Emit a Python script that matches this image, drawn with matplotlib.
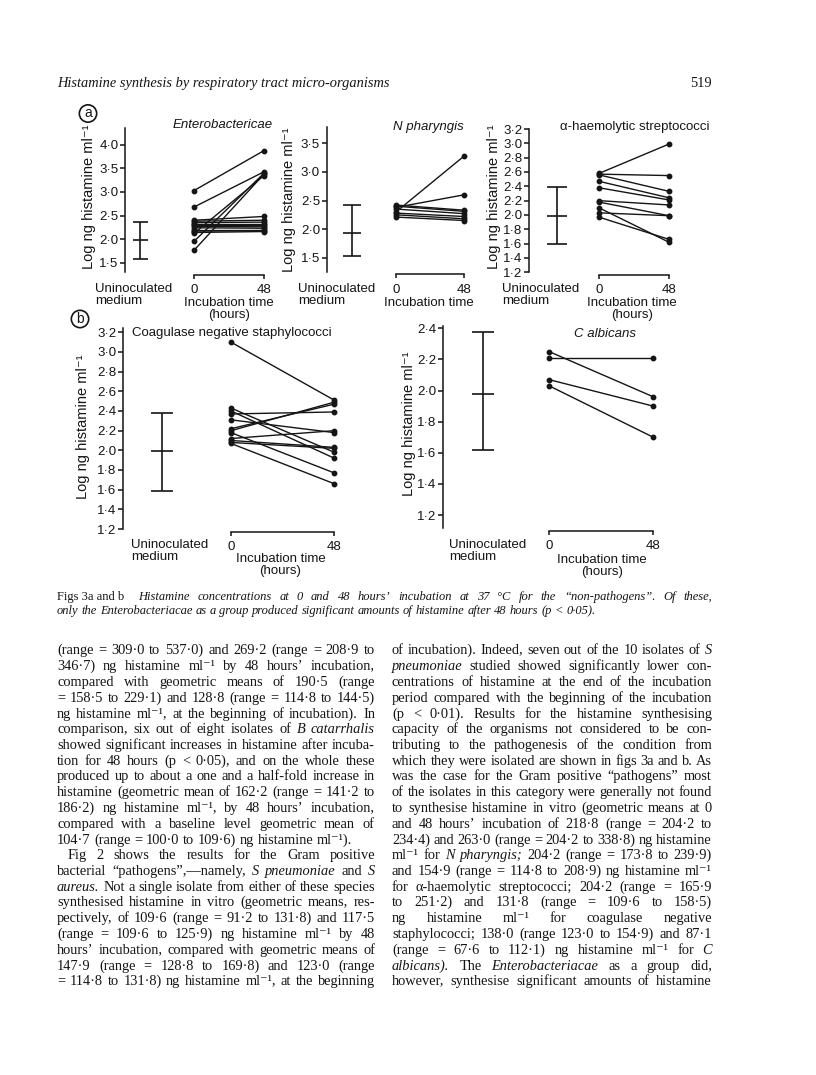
import math
import matplotlib
matplotlib.use("Agg")
import matplotlib.pyplot as plt
from matplotlib.ticker import FixedLocator, FuncFormatter
from matplotlib.backends.backend_agg import get_hinting_flag

W, H = 816, 1075
SANS = ['Liberation Sans', 'DejaVu Sans']
SERIF = ['Liberation Serif', 'DejaVu Serif']
INK = '#151515'

# ---- data (log ng histamine / ml) ----
# uninoculated medium: (low, geometric mean, high)
entero_medium = (1.57, 1.99, 2.37)
entero_0h = [3.03, 2.68, 2.12, 1.95, 1.76, 2.40, 2.38, 2.35, 2.33, 2.30, 2.27, 2.24, 2.20, 2.17, 2.14]
entero_48h = [3.88, 3.43, 3.35, 3.40, 3.38, 2.48, 2.40, 2.36, 2.33, 2.30, 2.26, 2.23, 2.20, 2.18, 2.16]

npha_medium = (1.535, 1.94, 2.42)
npha_0h = [2.30, 2.38, 2.42, 2.40, 2.35, 2.28, 2.25, 2.21]
npha_48h = [3.28, 2.60, 2.33, 2.31, 2.27, 2.22, 2.18, 2.15]

strep_medium = (1.60, 1.99, 2.39)
strep_0h = [2.58, 2.57, 2.56, 2.47, 2.38, 2.20, 2.18, 2.10, 2.03, 1.97]
strep_48h = [2.99, 2.55, 2.33, 2.24, 2.21, 2.14, 1.99, 1.62, 1.99, 1.66]

coag_medium = (1.586, 1.99, 2.376)
coag_0h = [3.10, 2.43, 2.40, 2.37, 2.31, 2.22, 2.20, 2.18, 2.12, 2.10, 2.08, 2.07]
coag_48h = [2.51, 1.98, 1.92, 2.39, 2.18, 2.47, 2.49, 1.77, 2.20, 2.03, 2.02, 1.66]

calb_medium = (1.62, 1.98, 2.374)
calb_0h = [2.25, 2.21, 2.07, 2.03]
calb_48h = [1.96, 2.21, 1.90, 1.70]

time_labels = ['0', '48']

fig = plt.figure(figsize=(W / 100, H / 100), dpi=100)
fig.patch.set_facecolor('white')


def rect(l, t, r, b):
    return [l / W, 1 - b / H, (r - l) / W, (b - t) / H]


def ftext(x, y, s, **kw):
    return fig.text(x / W, 1 - y / H, s, color=INK, **kw)


def panel(spine_x, top, bottom, right, ylim, yticks, xpos, medium, v0, v48,
          cap, title, title_xy, title_italic, ylab_xy, under):
    ax = fig.add_axes(rect(spine_x, top, right, bottom))
    ax.set_xlim(spine_x, right)
    ax.set_ylim(*ylim)
    ax.patch.set_alpha(0)
    for s in ['top', 'right']:
        ax.spines[s].set_visible(False)
    for s in ['left', 'bottom']:
        ax.spines[s].set_linewidth(1.1)
        ax.spines[s].set_color(INK)
    ax.spines['bottom'].set_position(('outward', 1.8))
    ax.spines['bottom'].set_bounds(xpos[1], xpos[2])

    ax.yaxis.set_major_locator(FixedLocator(yticks))
    ax.yaxis.set_major_formatter(FuncFormatter(lambda v, p: f"{v:.1f}".replace('.', '·')))
    ax.set_xticks([xpos[1], xpos[2]])
    ax.set_xticklabels(time_labels)
    ax.tick_params(axis='y', direction='out', length=3.6, width=1.1, pad=1.2,
                   labelsize=9.5, colors=INK)
    ax.tick_params(axis='x', direction='out', length=3.0, width=1.1, pad=3.8,
                   labelsize=9.5, colors=INK)
    for lab in ax.get_xticklabels() + ax.get_yticklabels():
        lab.set_family(SANS)

    lo, mean, hi = medium
    ax.errorbar([xpos[0]], [mean], yerr=[[mean - lo], [hi - mean]], fmt='_',
                markersize=cap, markeredgewidth=1.2, capsize=cap / 2,
                capthick=1.2, elinewidth=1.2, color=INK)
    for a, b in zip(v0, v48):
        ax.plot([xpos[1], xpos[2]], [a, b], '-o', color=INK, lw=1.0,
                markersize=3.2, clip_on=False)

    ftext(title_xy[0], title_xy[1], title, fontsize=9.5, family=SANS,
          style='italic' if title_italic else 'normal', ha='left', va='center')
    ftext(ylab_xy[0], ylab_xy[1], 'Log ng histamine ml⁻¹', fontsize=10.5,
          family=SANS, rotation=90, ha='center', va='center')
    # labels under the axis
    ux, uy = under['medium']
    ftext(ux, uy, 'Uninoculated\nmedium', fontsize=9.5, family=SANS,
          ha='left', va='center', linespacing=1.0)
    ix, iy = under['incub']
    ftext(ix, iy, under.get('incub_text', 'Incubation time\n(hours)'),
          fontsize=9.5, family=SANS, ha='center', va='top', linespacing=1.0)
    return ax


panel(125, 128, 272, 280, (1.30, 4.36), [1.5, 2.0, 2.5, 3.0, 3.5, 4.0],
      (140, 194, 264), entero_medium, entero_0h, entero_48h, 10.8,
      'Enterobactericae', (173, 125.5), True, (88.5, 197),
      {'medium': (95, 295), 'incub': (229, 297)})

panel(326.7, 127.3, 271.7, 480, (1.255, 3.78), [1.5, 2.0, 2.5, 3.0, 3.5],
      (351.7, 396, 464.3), npha_medium, npha_0h, npha_48h, 12.5,
      'N pharyngis', (393, 127), True, (288.5, 200),
      {'medium': (298, 294.5), 'incub': (429, 297), 'incub_text': 'Incubation time'})

panel(529.3, 129, 272.3, 690, (1.2, 3.2), [1.2 + 0.2 * i for i in range(11)],
      (557.3, 599, 669), strep_medium, strep_0h, strep_48h, 13.7,
      'α-haemolytic streptococci', (560, 127), False, (494, 197),
      {'medium': (502, 295), 'incub': (632, 297)})

panel(123.3, 328, 529, 345, (1.2, 3.244), [1.2 + 0.2 * i for i in range(11)],
      (161.7, 231, 334.3), coag_medium, coag_0h, coag_48h, 16.5,
      'Coagulase negative staphylococci', (131.5, 333), False, (83.5, 427),
      {'medium': (131, 551), 'incub': (280.5, 553)})

panel(443.3, 326, 528.3, 665, (1.115, 2.415), [1.2, 1.4, 1.6, 1.8, 2.0, 2.2, 2.4],
      (483.3, 549.3, 653.3), calb_medium, calb_0h, calb_48h, 15.8,
      'C albicans', (573.5, 334), True, (408.5, 424),
      {'medium': (449.3, 551.5), 'incub': (601.7, 554)})

# circled panel letters
for letter, (x, y) in [('a', (88, 113.5)), ('b', (80, 319))]:
    ftext(x, y, letter, fontsize=10, family=SANS, ha='center', va='center',
          bbox=dict(boxstyle='circle,pad=0.12', fc='white', ec=INK, lw=1.2))

# ---- page text ----
renderer = fig.canvas.get_renderer()
BODY = 10.4
CAPT = 9.0


def snap(t, y0):
    # agg truncates the glyph bitmap bbox; shift each word so all share one pixel baseline
    try:
        font = renderer._prepare_font(t.get_fontproperties())
        font.set_text(t.get_text(), 0, flags=get_hinting_flag())
        _, h = font.get_width_height()
        b = font.get_descent() / 64.0
        a = h / 64.0 - b
        y = y0 + (h // 64) - math.floor(a) - b
        t.set_y(1 - y / H)
    except Exception:
        pass


def put_words(words, x0, x1, base_y, size, justify=True):
    base_y = round(base_y)
    items = []
    for w in words:
        ital = w.startswith('_')
        s = w[1:] if ital else w
        t = ftext(0, base_y, s, fontsize=size, family=SERIF,
                  style='italic' if ital else 'normal', ha='left', va='baseline')
        items.append((t, t.get_window_extent(renderer).width))
    total = sum(wd for _, wd in items)
    if justify and len(items) > 1:
        gap = (x1 - x0 - total) / (len(items) - 1)
    else:
        gap = size * 0.25 * 100 / 72
    x = x0
    for t, wd in items:
        t.set_x(x / W)
        snap(t, base_y)
        x += wd + gap


left_col = [
    "(range = 309·0 to 537·0) and 269·2 (range = 208·9 to",
    "346·7) ng histamine ml⁻¹ by 48 hours’ incubation,",
    "compared with geometric means of 190·5 (range",
    "= 158·5 to 229·1) and 128·8 (range = 114·8 to 144·5)",
    "ng histamine ml⁻¹, at the beginning of incubation). In",
    "comparison, six out of eight isolates of _B _catarrhalis",
    "showed significant increases in histamine after incuba-",
    "tion for 48 hours (p < 0·05), and on the whole these",
    "produced up to about a one and a half-fold increase in",
    "histamine (geometric mean of 162·2 (range = 141·2 to",
    "186·2) ng histamine ml⁻¹, by 48 hours’ incubation,",
    "compared with a baseline level geometric mean of",
    "104·7 (range = 100·0 to 109·6) ng histamine ml⁻¹).",
    "Fig 2 shows the results for the Gram positive",
    "bacterial “pathogens”,—namely, _S _pneumoniae and _S",
    "_aureus. Not a single isolate from either of these species",
    "synthesised histamine in vitro (geometric means, res-",
    "pectively, of 109·6 (range = 91·2 to 131·8) and 117·5",
    "(range = 109·6 to 125·9) ng histamine ml⁻¹ by 48",
    "hours’ incubation, compared with geometric means of",
    "147·9 (range = 128·8 to 169·8) and 123·0 (range",
    "= 114·8 to 131·8) ng histamine ml⁻¹, at the beginning",
]

right_col = [
    "of incubation). Indeed, seven out of the 10 isolates of _S",
    "_pneumoniae studied showed significantly lower con-",
    "centrations of histamine at the end of the incubation",
    "period compared with the beginning of the incubation",
    "(p < 0·01). Results for the histamine synthesising",
    "capacity of the organisms not considered to be con-",
    "tributing to the pathogenesis of the condition from",
    "which they were isolated are shown in figs 3a and b. As",
    "was the case for the Gram positive “pathogens” most",
    "of the isolates in this category were generally not found",
    "to synthesise histamine in vitro (geometric means at 0",
    "and 48 hours’ incubation of 218·8 (range = 204·2 to",
    "234·4) and 263·0 (range = 204·2 to 338·8) ng histamine",
    "ml⁻¹ for _N _pharyngis; 204·2 (range = 173·8 to 239·9)",
    "and 154·9 (range = 114·8 to 208·9) ng histamine ml⁻¹",
    "for α-haemolytic streptococci; 204·2 (range = 165·9",
    "to 251·2) and 131·8 (range = 109·6 to 158·5)",
    "ng histamine ml⁻¹ for coagulase negative",
    "staphylococci; 138·0 (range 123·0 to 154·9) and 87·1",
    "(range = 67·6 to 112·1) ng histamine ml⁻¹ for _C",
    "_albicans). The _Enterobacteriacae as a group did,",
    "however, synthesise significant amounts of histamine",
]

first_base = 654.5
lead = 15.75
for i, line in enumerate(left_col):
    indent = 11 if line.startswith("Fig 2") else 0
    put_words(line.split(), 57 + indent, 375, first_base + i * lead, BODY,
              justify=not line.startswith("104·7"))
for i, line in enumerate(right_col):
    put_words(line.split(), 392, 712, first_base + i * lead, BODY)

# header
ftext(57, 87, 'Histamine synthesis by respiratory tract micro-organisms',
      fontsize=BODY, family=SERIF, style='italic', ha='left', va='baseline')
ftext(712, 87, '519', fontsize=BODY, family=SERIF, ha='right', va='baseline')

# caption
t = ftext(57, 600, 'Figs 3a and b', fontsize=CAPT, family=SERIF, ha='left', va='baseline')
snap(t, 600)
cw = t.get_window_extent(renderer).width
cap1 = ("Histamine concentrations at 0 and 48 hours’ incubation at 37 °C "
        "for the “non-pathogens”. Of these,")
put_words(['_' + w for w in cap1.split()], 57 + cw + 14, 712, 600, CAPT)
cap2 = ("only the Enterobacteriacae as a group produced significant amounts "
        "of histamine after 48 hours (p < 0·05).")
put_words(['_' + w for w in cap2.split()], 57, 712, 614, CAPT, justify=False)

fig.savefig('out.png', dpi=100, facecolor='white')
